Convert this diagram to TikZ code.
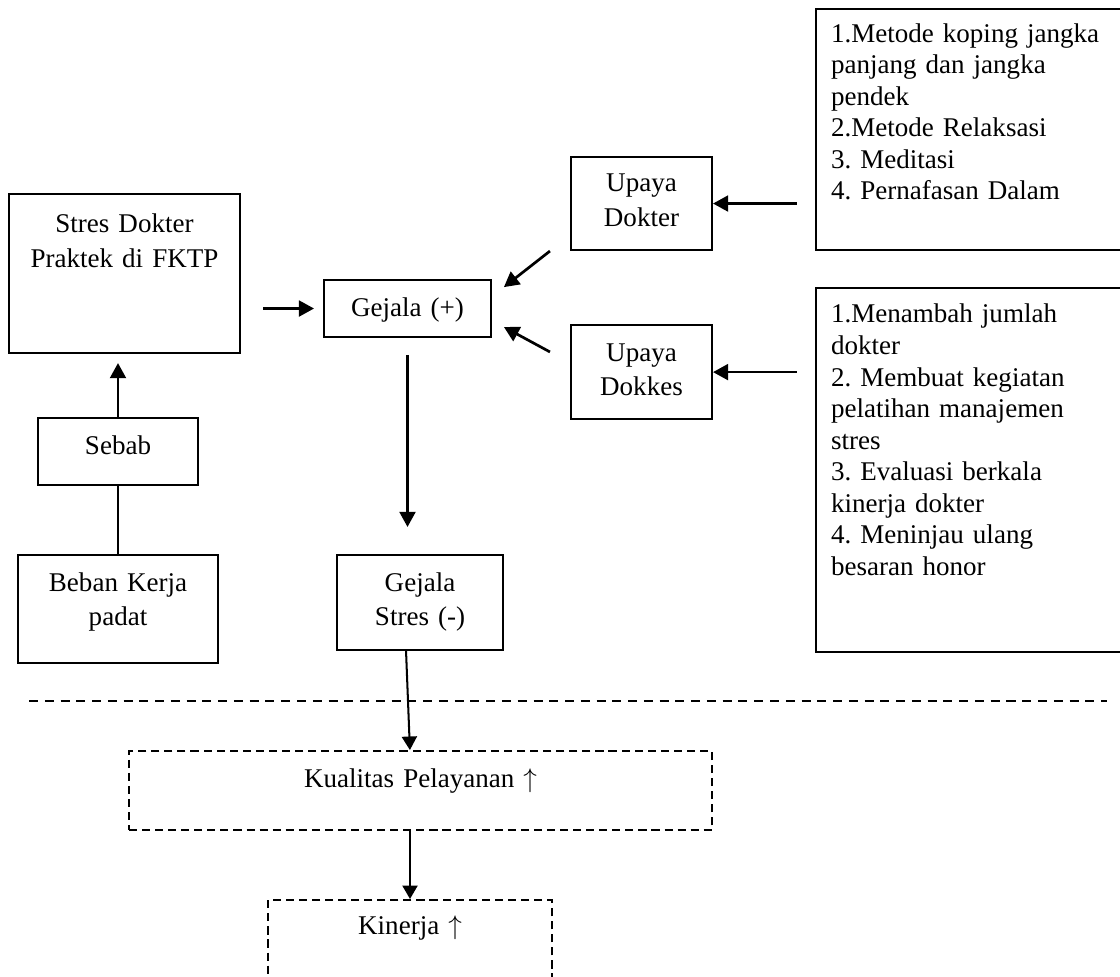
\documentclass[tikz,border=0pt]{standalone}
\usepackage{fontspec}
\setmainfont{Liberation Serif}
\usetikzlibrary{arrows.meta}
\frenchspacing

\begin{document}
\begin{tikzpicture}[x=0.444pt, y=-0.444pt,
  every node/.style={font=\fontsize{12pt}{15.5pt}\selectfont},
  box/.style={draw, line width=0.9pt, anchor=north, align=center, inner xsep=0pt, inner ysep=0pt},
  dbox/.style={box, dash pattern=on 3.6pt off 2.2pt},
  listbox/.style={draw, line width=0.9pt, anchor=north west, align=left, inner xsep=6.7pt, inner ysep=0pt,
    text width=124.3pt, font=\fontsize{12pt}{14pt}\selectfont},
  arr/.style={line width=1.2pt, -{Triangle[length=6.7pt,width=7pt]}},
  thinarr/.style={line width=0.9pt, -{Triangle[length=6pt,width=6.7pt]}}]
  % page frame, the lower box runs off the page
  \useasboundingbox (0,0) rectangle (1120,976);
  \clip (0,0) rectangle (1120,976);

  % left column
  \node[box, text width=102.6pt, text height=16.9pt, text depth=53.7pt] (stres) at (124.5,193) {Stres Dokter\\Praktek di FKTP};
  \node[box, text width=71pt, text height=16pt, text depth=13.8pt] (sebab) at (118,417) {Sebab};
  \node[box, text width=88.8pt, text height=16pt, text depth=32pt] (beban) at (118,554) {Beban Kerja\\padat};

  % middle column
  \node[box, text width=74.1pt, text height=16pt, text depth=9.3pt] (gplus) at (407.5,279) {Gejala (+)\hspace*{7pt}};
  \node[box, text width=73.7pt, text height=16pt, text depth=26.2pt] (gstres) at (420,554) {Gejala\\Stres (-)};
  \node[box, text width=62.6pt, text height=15.5pt, text depth=25.8pt] (dokter) at (641.5,156) {Upaya\\Dokter};
  \node[box, text width=62.6pt, text height=16pt, text depth=25.8pt] (dokkes) at (641.5,324) {Upaya\\Dokkes};

  % right column
  \node[listbox, text height=14.7pt, text depth=92.4pt] (metode) at (815,8)
    {1.Metode koping jangka\\panjang dan jangka\\pendek\\2.Metode Relaksasi\\3. Meditasi\\4. Pernafasan Dalam};
  \node[listbox, text height=15.5pt, text depth=146.1pt] (langkah) at (815,287)
    {1.Menambah jumlah\\dokter\\2. Membuat kegiatan\\pelatihan manajemen\\stres\\3. Evaluasi berkala\\kinerja dokter\\4. Meninjau ulang\\besaran honor};

  % below the line
  \node[dbox, text width=258.9pt, text height=16pt, text depth=19.1pt] (kualitas) at (420.5,750) {Kualitas Pelayanan $\uparrow$};
  \node[dbox, text width=126.1pt, text height=15.1pt, text depth=34.2pt] (kinerja) at (410,899) {Kinerja $\uparrow$};

  \draw[line width=1.2pt, dash pattern=on 4pt off 3pt] (29,701) -- (1107,701);

  % connectors
  \draw[line width=0.9pt] (beban.north) -- (sebab.south);
  \draw[arr, shorten >=4pt] (sebab.north) -- (sebab.north |- stres.south);
  \draw[arr, shorten <=9.8pt, shorten >=4pt] (stres.east |- gplus.west) -- (gplus.west);
  \draw[arr, shorten <=7.5pt, shorten >=12pt] (gplus.south) -- (gplus.south |- gstres.north);
  \draw[arr] ([xshift=-8.9pt]dokter.south west) -- ([xshift=5.3pt,yshift=-3.6pt]gplus.north east);
  \draw[arr] ([xshift=-8.9pt,yshift=-12.4pt]dokkes.north west) -- ([xshift=5.3pt,yshift=4.9pt]gplus.south east);
  \draw[arr, shorten <=8pt] (metode.west |- dokter.east) -- (dokter.east);
  \draw[arr, shorten <=8pt] (langkah.west |- dokkes.east) -- (dokkes.east);
  \draw[thinarr] ([xshift=-6.2pt]gstres.south) -- ([xshift=-4.7pt]kualitas.north);
  \draw[thinarr] (kinerja.north |- kualitas.south) -- (kinerja.north);
\end{tikzpicture}
\end{document}
